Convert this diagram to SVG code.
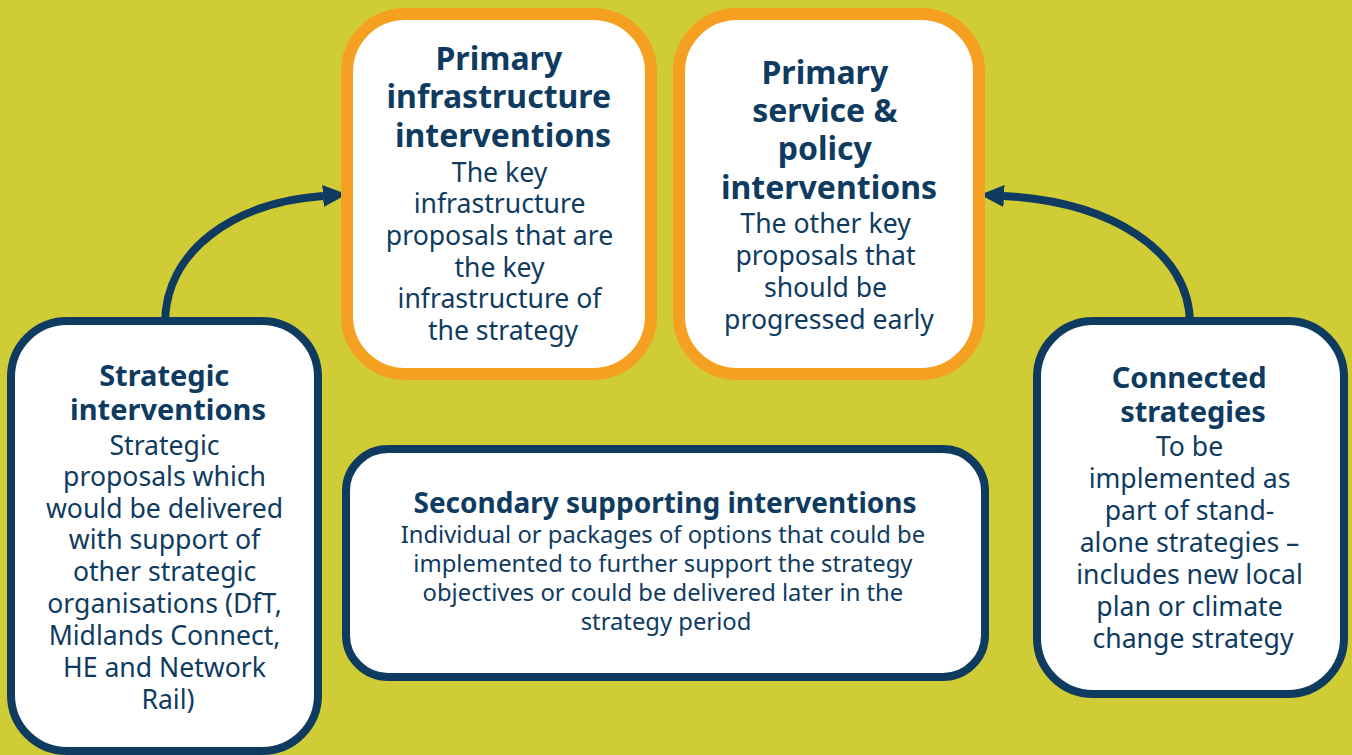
<svg xmlns="http://www.w3.org/2000/svg" width="1352" height="755" viewBox="0 0 1352 755">
  <style>
    .t { font-family: "Noto Sans", "Open Sans", sans-serif; fill: #0f3b60; text-anchor: middle; }
    .h { font-weight: 700; }
    .navy { fill: #ffffff; stroke: #0f3b60; stroke-width: 8; }
    .orange { fill: #ffffff; stroke: #f5a020; stroke-width: 12; }
    .link { fill: none; stroke: #0f3b60; stroke-width: 8; }
  </style>
  <defs>
    <marker id="head" markerUnits="userSpaceOnUse" markerWidth="26" markerHeight="24" refX="0" refY="11" orient="auto">
      <path d="M0,0 L24,11 L0,22 z" fill="#0f3b60"/>
    </marker>
  </defs>

  <rect width="1352" height="755" fill="#cfcc35"/>

  <g id="connectors">
    <path class="link" d="M165,324 C165,250 235,202 323,196" marker-end="url(#head)"/>
    <path class="link" d="M1190,324 C1190,250 1110,202 1004,196" marker-end="url(#head)"/>
  </g>

  <g id="strategic">
    <rect class="navy" x="11" y="321" width="307" height="430" rx="56"/>
    <text class="t h" font-size="29">
      <tspan x="168" y="386">Strategic</tspan>
      <tspan x="168" y="420">interventions</tspan>
    </text>
    <text class="t" font-size="26.6">
      <tspan x="168" y="455">Strategic</tspan>
      <tspan x="168" y="486">proposals which</tspan>
      <tspan x="168" y="518">would be delivered</tspan>
      <tspan x="168" y="549">with support of</tspan>
      <tspan x="168" y="581">other strategic</tspan>
      <tspan x="168" y="613">organisations (DfT,</tspan>
      <tspan x="168" y="645">Midlands Connect,</tspan>
      <tspan x="168" y="677">HE and Network</tspan>
      <tspan x="168" y="709">Rail)</tspan>
    </text>
  </g>

  <g id="primary-infrastructure">
    <rect class="orange" x="347" y="14" width="304" height="360" rx="58"/>
    <text class="t h" font-size="32">
      <tspan x="503" y="70">Primary</tspan>
      <tspan x="503" y="108">infrastructure</tspan>
      <tspan x="503" y="147">interventions</tspan>
    </text>
    <text class="t" font-size="26.6">
      <tspan x="503" y="182">The key</tspan>
      <tspan x="503" y="213">infrastructure</tspan>
      <tspan x="503" y="245">proposals that are</tspan>
      <tspan x="503" y="277">the key</tspan>
      <tspan x="503" y="308">infrastructure of</tspan>
      <tspan x="503" y="340">the strategy</tspan>
    </text>
  </g>

  <g id="primary-service-policy">
    <rect class="orange" x="679" y="14" width="300" height="360" rx="58"/>
    <text class="t h" font-size="32">
      <tspan x="829" y="84">Primary</tspan>
      <tspan x="829" y="122">service &amp;</tspan>
      <tspan x="829" y="160">policy</tspan>
      <tspan x="829" y="199">interventions</tspan>
    </text>
    <text class="t" font-size="26.6">
      <tspan x="829" y="233">The other key</tspan>
      <tspan x="829" y="265">proposals that</tspan>
      <tspan x="829" y="297">should be</tspan>
      <tspan x="829" y="329">progressed early</tspan>
    </text>
  </g>

  <g id="connected-strategies">
    <rect class="navy" x="1037" y="321" width="307" height="373" rx="56"/>
    <text class="t h" font-size="29">
      <tspan x="1193" y="388">Connected</tspan>
      <tspan x="1193" y="422">strategies</tspan>
    </text>
    <text class="t" font-size="26.6">
      <tspan x="1193" y="456">To be</tspan>
      <tspan x="1193" y="488">implemented as</tspan>
      <tspan x="1193" y="520">part of stand-</tspan>
      <tspan x="1193" y="552">alone strategies –</tspan>
      <tspan x="1193" y="584">includes new local</tspan>
      <tspan x="1193" y="616">plan or climate</tspan>
      <tspan x="1193" y="648">change strategy</tspan>
    </text>
  </g>

  <g id="secondary-supporting">
    <rect class="navy" x="346" y="449" width="639" height="228" rx="42" stroke-width="7"/>
    <text class="t h" font-size="28" x="665" y="513">Secondary supporting interventions</text>
    <text class="t" font-size="23.8">
      <tspan x="666" y="543">Individual or packages of options that could be</tspan>
      <tspan x="666" y="572">implemented to further support the strategy</tspan>
      <tspan x="666" y="601">objectives or could be delivered later in the</tspan>
      <tspan x="666" y="630">strategy period</tspan>
    </text>
  </g>
</svg>
